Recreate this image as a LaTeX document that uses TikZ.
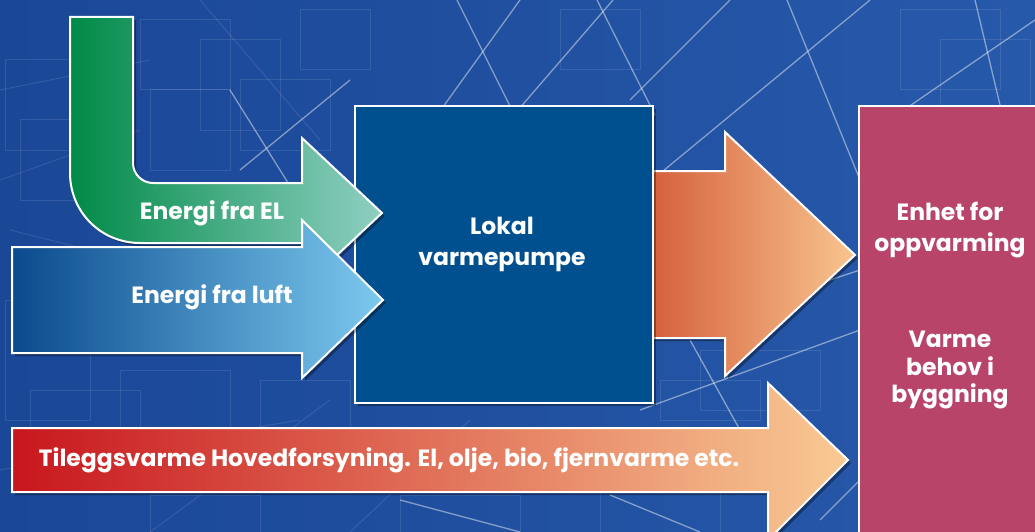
\documentclass[tikz,border=0pt]{standalone}
\usepackage{fontspec}
\setmainfont{Poppins}
\usetikzlibrary{shadows}
\definecolor{bgA}{HTML}{1B4797}
\definecolor{bgB}{HTML}{2759AA}
\definecolor{grA}{HTML}{008A47}
\definecolor{grM}{HTML}{039455}
\definecolor{grB}{HTML}{8FCFC2}
\definecolor{blA}{HTML}{0A4A8D}
\definecolor{blB}{HTML}{7CC9EF}
\definecolor{orA}{HTML}{D35B37}
\definecolor{orB}{HTML}{F8C58F}
\definecolor{rdA}{HTML}{C8161D}
\definecolor{rdM}{HTML}{DC653E}
\definecolor{rdB}{HTML}{F9CA94}
\definecolor{boxblue}{HTML}{00508F}
\definecolor{pink}{HTML}{B8446A}
\tikzset{
  arrowshape/.style={draw=white, line width=2pt, line join=miter,
    drop shadow={shadow xshift=3pt, shadow yshift=-3pt, opacity=0.35, fill=black}},
  boxshape/.style={draw=white, line width=2pt,
    drop shadow={shadow xshift=3pt, shadow yshift=-3pt, opacity=0.35, fill=black}},
  lbl/.style={text=white, align=center, font=\bfseries\fontsize{23.5}{31}\selectfont, inner sep=0pt},
  bgline/.style={draw=white, opacity=0.45, line width=1.3pt},
  faint/.style={draw=white, opacity=0.1, line width=1pt},
}
\begin{document}
\begin{tikzpicture}[x=1pt,y=-1pt]
\useasboundingbox (0,0) rectangle (1035,532);
% background
\shade[left color=bgA, right color=bgB] (0,0) rectangle (1035,532);
% faint blueprint rectangles
\foreach \a/\b/\c/\d in {5/60/110/150, 20/120/100/200, 140/20/230/90, 150/90/230/170, 200/40/280/130, 240/80/330/150, 5/300/90/420, 30/390/140/470, 120/370/230/430, 260/380/350/430, 300/10/370/70, 560/10/640/70, 900/10/1000/90, 940/40/1030/110, 660/380/760/420, 700/350/820/410, 150/495/260/532, 400/495/520/532, 600/490/720/532}
  \draw[faint] (\a,\b) rectangle (\c,\d);
\foreach \a/\b/\c/\d in {0/180/140/130, 10/230/130/260, 0/470/300/420, 150/532/330/400, 350/532/470/420, 200/0/320/140, 0/90/150/60}
  \draw[faint] (\a,\b) -- (\c,\d);
% brighter diagonal lines
\draw[bgline] (520,0) -- (430,125);
\draw[bgline] (457,0) -- (512,110);
\draw[bgline] (613,0) -- (518,110);
\draw[bgline] (597,0) -- (655,115);
\draw[bgline] (730,0) -- (630,100);
\draw[bgline] (787,0) -- (860,180);
\draw[bgline] (870,0) -- (640,190);
\draw[bgline] (1035,20) -- (860,140);
\draw[bgline] (975,0) -- (1000,105);
\draw[bgline] (650,340) -- (860,270);
\draw[bgline] (690,340) -- (740,430);
\draw[bgline] (640,410) -- (860,330);
\draw[bgline] (230,90) -- (330,250);
\draw[bgline] (350,80) -- (240,170);
\draw[bgline] (400,500) -- (520,532);
\draw[bgline] (610,495) -- (700,532);
\draw[bgline] (820,520) -- (860,480);
% orange arrow (behind box)
\shade[arrowshape, left color=orA, right color=orB]
  (640,171) -- (725,171) -- (725,132) -- (855,255) -- (725,376) -- (725,338) -- (640,338) -- cycle;
% Lokal varmepumpe box
\node[boxshape, fill=boxblue, minimum width=298pt, minimum height=297pt, anchor=north west, inner sep=0pt] (pump) at (353.5,105) {};
% green L arrow
\shade[arrowshape, left color=grA, middle color=grM, right color=grB]
  (70,17) -- (133,17) -- (133,163) .. controls (133,174) and (142,183) .. (153,183)
  -- (302,183) -- (302,138) -- (382,213) -- (302,288) -- (302,243) -- (140,243)
  .. controls (101,243) and (70,212) .. (70,173) -- cycle;
% blue arrow
\shade[arrowshape, left color=blA, right color=blB]
  (12,247) -- (302,247) -- (302,220) -- (383,300) -- (302,378) -- (302,353) -- (12,353) -- cycle;
% pink box
\node[boxshape, fill=pink, minimum width=190pt, minimum height=440pt, anchor=north west, inner sep=0pt] (unit) at (858,105) {};
% bottom arrow
\shade[arrowshape, left color=rdA, middle color=rdM, right color=rdB]
  (12,428) -- (768,428) -- (768,383) -- (848,460) -- (768,540) -- (768,492) -- (12,492) -- cycle;
% labels
\node[lbl] (el) at (212,213) {Energi fra EL};
\node[lbl] (luft) at (212,297) {Energi fra luft};
\node[lbl] (lok) at (502,244) {Lokal\\varmepumpe};
\node[lbl] (enh) at (950,230) {Enhet for\\oppvarming};
\node[lbl, font=\bfseries\fontsize{23.5}{27.5}\selectfont] (beh) at (950,370) {Varme\\behov i\\byggning};
\node[lbl] (til) at (389,460) {Tileggsvarme Hovedforsyning. El, olje, bio, fjernvarme etc.};
\end{tikzpicture}
\end{document}
